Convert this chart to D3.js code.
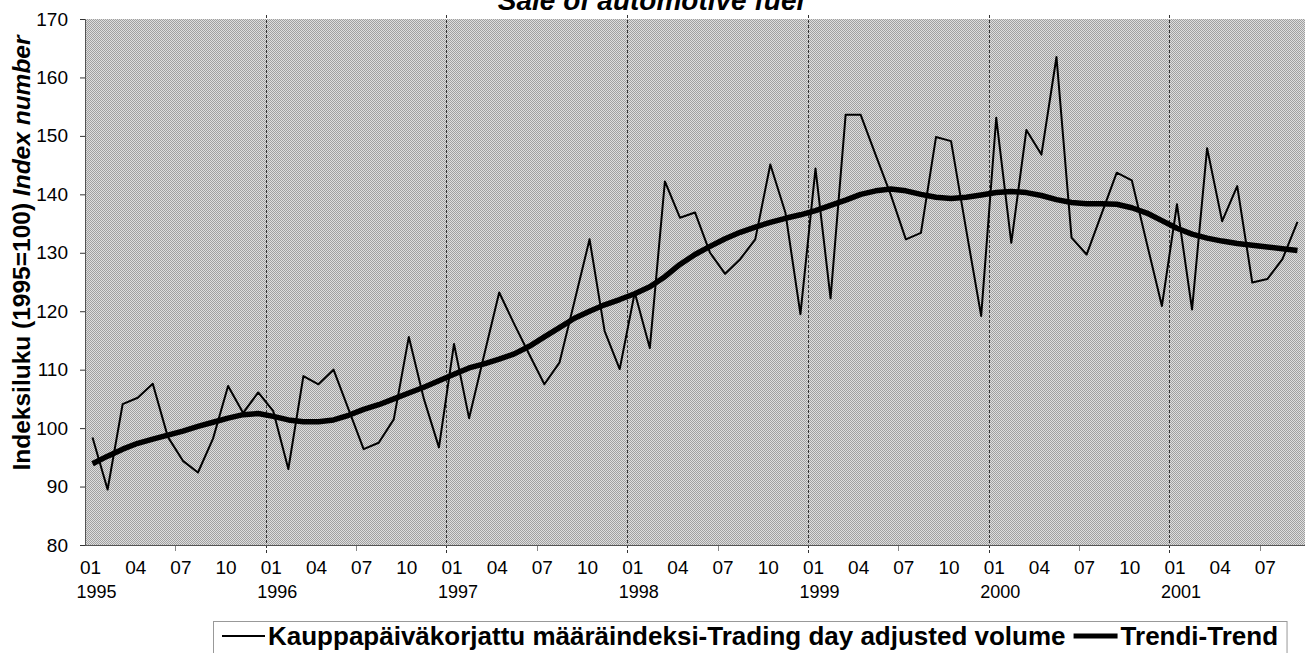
<!DOCTYPE html>
<html>
<head>
<meta charset="utf-8">
<script src="https://cdn.jsdelivr.net/npm/d3@7"></script>
<style>
body { margin: 0; background: #fff; }
svg { display: block; font-family: "Liberation Sans", Arial, sans-serif; }
</style>
</head>
<body>
<svg></svg>
<script>
var width = 1307;
var height = 653;
var plotLeft = 85, plotRight = 1305, plotTop = 19, plotBottom = 545;

var years = ["1995", "1996", "1997", "1998", "1999", "2000", "2001"];
var monthLabels = ["01", "02", "03", "04", "05", "06", "07", "08", "09", "10", "11", "12"];
var shownMonths = ["01", "04", "07", "10"];
var yTicks = [80, 90, 100, 110, 120, 130, 140, 150, 160, 170];

// Kauppapäiväkorjattu määräindeksi, 1995-01 ... 2001-09
var volume = [
  98.4, 89.5, 104.1, 105.2, 107.6, 98.5, 94.4, 92.4, 98.2, 107.2, 102.6, 106.1,
  102.9, 93.0, 108.9, 107.5, 110.0, 103.2, 96.4, 97.5, 101.5, 115.6, 105.0, 96.7,
  114.4, 101.7, 112.5, 123.2, 117.8, 112.6, 107.5, 111.2, 121.7, 132.3, 116.6, 110.1,
  123.2, 113.7, 142.2, 136.0, 136.9, 130.0, 126.4, 128.9, 132.3, 145.1, 136.9, 119.5,
  144.4, 122.2, 153.6, 153.6, 146.7, 139.9, 132.3, 133.4, 149.8, 149.1, 134.0, 119.2,
  153.1, 131.7, 151.0, 146.8, 163.5, 132.6, 129.7, 136.7, 143.7, 142.4, 131.6, 120.9,
  138.3, 120.3, 147.9, 135.4, 141.4, 124.9, 125.5, 128.9, 135.3
];

// Trendi
var trend = [
  93.9, 95.2, 96.4, 97.4, 98.1, 98.8, 99.5, 100.3, 101.0, 101.7, 102.3, 102.5,
  102.0, 101.4, 101.1, 101.1, 101.4, 102.2, 103.2, 104.0, 105.0, 106.0, 107.0, 108.1,
  109.2, 110.3, 111.0, 111.8, 112.7, 114.0, 115.6, 117.2, 118.8, 120.0, 121.1, 122.0,
  123.0, 124.2, 125.9, 128.0, 129.7, 131.1, 132.4, 133.5, 134.4, 135.2, 135.9, 136.5,
  137.2, 138.1, 139.0, 140.0, 140.6, 140.9, 140.6, 140.0, 139.5, 139.3, 139.5, 139.9,
  140.3, 140.5, 140.3, 139.8, 139.1, 138.6, 138.4, 138.4, 138.3, 137.7, 136.8, 135.5,
  134.2, 133.2, 132.5, 132.0, 131.6, 131.3, 131.0, 130.7, 130.4
];

var categories = [];
years.forEach(y => monthLabels.forEach(m => categories.push(y + "-" + m)));
categories = categories.slice(0, volume.length);

var svg = d3.select("svg")
    .attr("width", width)
    .attr("height", height);

var pat = svg.append("defs").append("pattern")
    .attr("id", "dots")
    .attr("width", 2)
    .attr("height", 2)
    .attr("patternUnits", "userSpaceOnUse");
pat.append("rect").attr("width", 2).attr("height", 2).attr("fill", "#dedede");
pat.append("rect").attr("width", 1).attr("height", 1).attr("fill", "#a0a0a0");
pat.append("rect").attr("x", 1).attr("y", 1).attr("width", 1).attr("height", 1).attr("fill", "#a0a0a0");

var xScale = d3.scaleBand()
    .domain(categories)
    .range([plotLeft, plotRight]);
var bw = xScale.bandwidth();
var cx = c => xScale(c) + bw / 2;

var yScale = d3.scaleLinear()
    .domain([80, 170])
    .range([plotBottom, plotTop]);

svg.append("rect")
    .attr("x", plotLeft)
    .attr("y", plotTop)
    .attr("width", plotRight - plotLeft)
    .attr("height", plotBottom - plotTop)
    .attr("fill", "url(#dots)");

// title, cut by the top edge as in the scan
svg.append("text")
    .attr("x", 651)
    .attr("y", 10)
    .attr("text-anchor", "middle")
    .style("font-size", "28px")
    .style("font-weight", "bold")
    .style("font-style", "italic")
    .text("Sale of automotive fuel");

// year gridlines at the Dec/Jan boundary
var yearStarts = categories.filter(c => c.slice(5) === "01" && c !== categories[0]);
svg.selectAll(".grid")
    .data(yearStarts)
  .enter().append("line")
    .attr("class", "grid")
    .attr("x1", d => Math.round(xScale(d)) + 0.5)
    .attr("x2", d => Math.round(xScale(d)) + 0.5)
    .attr("y1", plotTop - 4)
    .attr("y2", plotBottom + 9)
    .attr("stroke", "#333")
    .attr("stroke-width", 1)
    .attr("stroke-dasharray", "3,2");

// half-year ticks on the category axis
var julStarts = categories.filter(c => c.slice(5) === "07");
svg.selectAll(".mtick")
    .data(julStarts)
  .enter().append("line")
    .attr("class", "mtick")
    .attr("x1", d => Math.round(xScale(d)) + 0.5)
    .attr("x2", d => Math.round(xScale(d)) + 0.5)
    .attr("y1", plotBottom)
    .attr("y2", plotBottom + 6)
    .attr("stroke", "#888");

svg.append("g")
    .attr("transform", "translate(" + plotLeft + ",0)")
    .call(d3.axisLeft(yScale).tickValues(yTicks).tickSize(5).tickPadding(12))
    .call(g => g.selectAll("text").style("font-size", "19px").attr("fill", "#000"))
    .call(g => g.selectAll("line").attr("stroke", "#333"))
    .call(g => g.select(".domain").attr("stroke", "#555"));

svg.append("line")
    .attr("x1", plotLeft)
    .attr("x2", plotRight)
    .attr("y1", plotBottom + 0.5)
    .attr("y2", plotBottom + 0.5)
    .attr("stroke", "#555");

var labelled = categories.filter(c => shownMonths.indexOf(c.slice(5)) >= 0);
svg.selectAll(".mlabel")
    .data(labelled)
  .enter().append("text")
    .attr("class", "mlabel")
    .attr("x", d => cx(d) - 2)
    .attr("y", 574)
    .attr("text-anchor", "middle")
    .style("font-size", "19px")
    .text(d => d.slice(5));

svg.selectAll(".ylabel")
    .data(categories.filter(c => c.slice(5) === "01"))
  .enter().append("text")
    .attr("class", "ylabel")
    .attr("x", d => cx(d) - 16)
    .attr("y", 598)
    .style("font-size", "18px")
    .text(d => d.slice(0, 4));

var yTitle = svg.append("text")
    .attr("transform", "translate(30,253) rotate(-90)")
    .attr("text-anchor", "middle")
    .style("font-size", "24.5px")
    .style("font-weight", "bold");
yTitle.append("tspan").text("Indeksiluku (1995=100) ");
yTitle.append("tspan").style("font-style", "italic").text("Index number");

var line = d3.line()
    .x((d, i) => cx(categories[i]))
    .y(d => yScale(d));

svg.append("path")
    .datum(volume)
    .attr("d", line)
    .attr("fill", "none")
    .attr("stroke", "#000")
    .attr("stroke-width", 2)
    .attr("stroke-linejoin", "round");

svg.append("path")
    .datum(trend)
    .attr("d", line)
    .attr("fill", "none")
    .attr("stroke", "#000")
    .attr("stroke-width", 5.5)
    .attr("stroke-linejoin", "round");

// legend
var legend = svg.append("g");
var box = legend.append("rect")
    .attr("x", 213.5)
    .attr("y", 621.5)
    .attr("height", 40)
    .attr("fill", "#fff")
    .attr("stroke", "#999");
legend.append("line")
    .attr("x1", 222).attr("x2", 265)
    .attr("y1", 636).attr("y2", 636)
    .attr("stroke", "#000").attr("stroke-width", 2);
var t1 = legend.append("text")
    .attr("x", 268)
    .attr("y", 645)
    .style("font-size", "26px")
    .style("font-weight", "bold")
    .text("Kauppapäiväkorjattu määräindeksi-Trading day adjusted volume");
var x2 = 268 + t1.node().getComputedTextLength() + 8;
legend.append("line")
    .attr("x1", x2).attr("x2", x2 + 44)
    .attr("y1", 636).attr("y2", 636)
    .attr("stroke", "#000").attr("stroke-width", 5);
var t2 = legend.append("text")
    .attr("x", x2 + 47)
    .attr("y", 645)
    .style("font-size", "26px")
    .style("font-weight", "bold")
    .text("Trendi-Trend");
box.attr("width", x2 + 47 + t2.node().getComputedTextLength() + 9 - 213.5);
</script>
</body>
</html>
